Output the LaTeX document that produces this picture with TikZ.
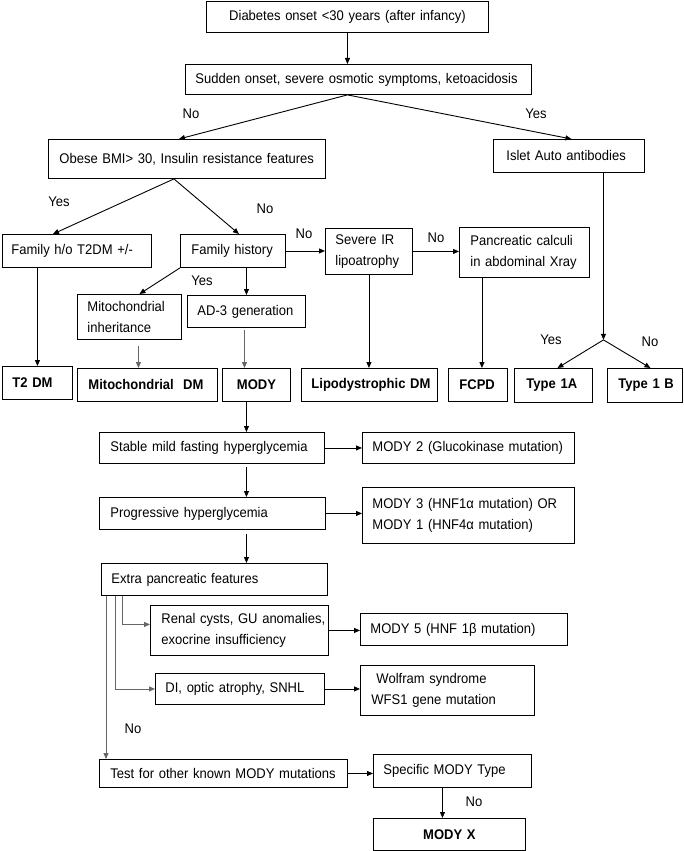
\documentclass[tikz,border=0pt]{standalone}
\usepackage{fontspec}
\setmainfont{Liberation Sans}[FakeStretch=0.93]
\usetikzlibrary{arrows.meta,calc}
\newcommand\fs{\fontsize{14}{20.5}\selectfont\hyphenpenalty=10000\exhyphenpenalty=10000\hbadness=10000\hfuzz=100pt}
\begin{document}
\begin{tikzpicture}[x=1pt,y=-1pt,
 box/.style={draw, line width=0.9pt, anchor=north west, align=left, inner ysep=1pt, font=\fs},
 cbox/.style={box, align=center},
 bbox/.style={box, font=\fs\bfseries},
 lbl/.style={font=\fs, inner sep=0pt},
 arr/.style={line width=0.9pt, -{Triangle[length=6pt,width=5pt]}},
 sub/.style={arr, black!60},
]
\useasboundingbox (0,0) rectangle (683,851);
% boxes
\node[cbox, text width=262pt, inner xsep=10pt, minimum height=31pt] (b1) at (206,1) {Diabetes onset <30 years (after infancy)};
\node[box, text width=326pt, inner xsep=10pt, minimum height=30pt] (b2) at (185,64) {Sudden onset, severe osmotic symptoms, ketoacidosis};
\node[box, text width=255pt, inner xsep=11pt, minimum height=39pt] (obese) at (48,139) {Obese BMI> 30, Insulin resistance features};
\node[box, text width=125pt, inner xsep=13pt, minimum height=33pt] (islet) at (493,139) {Islet Auto antibodies};
\node[box, text width=131pt, inner xsep=9pt, minimum height=33pt] (fh) at (2,234) {Family~h/o~T2DM~+/-};
\node[box, text width=83pt, inner xsep=11pt, minimum height=33pt] (fhist) at (180,234) {Family~history};
\node[box, text width=67pt, inner xsep=10pt, minimum height=46pt] (sir) at (325,228) {Severe~IR\\lipoatrophy};
\node[box, text width=108pt, inner xsep=11pt, minimum height=50pt] (pc) at (459,227) {Pancreatic~calculi\\in~abdominal~Xray};
\node[box, text width=84pt, inner xsep=10pt, minimum height=45pt] (mi) at (77,294) {Mitochondrial\\inheritance};
\node[box, text width=98pt, inner xsep=10pt, minimum height=32pt] (ad3) at (187,295) {AD-3~generation};
\node[bbox, text width=50pt, inner xsep=10pt, minimum height=33pt] (t2) at (2,366) {T2~DM};
\node[bbox, text width=118pt, inner xsep=11pt, minimum height=33pt] (mdm) at (77,368) {Mitochondrial~~DM};
\node[bbox, align=center, text width=48pt, inner xsep=10pt, minimum height=33pt] (mody) at (222,368) {MODY};
\node[bbox, text width=116pt, inner xsep=10pt, minimum height=33pt] (lipo) at (301,368) {Lipodystrophic~DM};
\node[bbox, text width=37pt, inner xsep=11pt, minimum height=33pt] (fcpd) at (448,368) {FCPD};
\node[bbox, text width=54pt, inner xsep=12pt, minimum height=34pt] (t1a) at (514,368) {Type~1A};
\node[bbox, text width=53pt, inner xsep=11pt, minimum height=34pt] (t1b) at (607,368) {Type~1~B};
\node[box, text width=203pt, inner xsep=11pt, minimum height=31pt] (stable) at (99,432) {Stable~mild~fasting~hyperglycemia};
\node[box, text width=192pt, inner xsep=10pt, minimum height=31pt] (mody2) at (362,432) {MODY~2~(Glucokinase~mutation)};
\node[box, text width=204pt, inner xsep=11pt, minimum height=32pt] (prog) at (99,497) {Progressive~hyperglycemia};
\node[box, text width=192pt, inner xsep=10pt, minimum height=56pt] (mody3) at (362,487) {MODY~3~(HNF1α~mutation)~OR\\MODY~1~(HNF4α~mutation)};
\node[box, text width=206pt, inner xsep=10pt, minimum height=32pt] (extra) at (101,563) {Extra~pancreatic~features};
\node[box, text width=156pt, inner xsep=11pt, minimum height=50pt] (renal) at (150,605) {\mbox{Renal cysts, GU anomalies,}\\\mbox{exocrine insufficiency}};
\node[box, text width=187pt, inner xsep=10pt, minimum height=32pt] (mody5) at (360,613) {MODY~5~(HNF~1β~mutation)};
\node[box, text width=149pt, inner xsep=10pt, minimum height=31pt] (di) at (155,673) {DI,~optic~atrophy,~SNHL};
\node[box, text width=152pt, inner xsep=11pt, minimum height=50pt] (wolf) at (360,665) {\hspace*{5pt}Wolfram~syndrome\\WFS1~gene~mutation};
\node[box, text width=226pt, inner xsep=11pt, minimum height=28pt] (test) at (99,759) {Test~for~other~known~MODY~mutations};
\node[box, text width=138pt, inner xsep=10pt, minimum height=33pt] (spec) at (373,754) {Specific~MODY~Type};
\node[bbox, align=center, text width=132pt, inner xsep=10pt, minimum height=32pt] (modyx) at (373,818) {MODY~X};
% connectors
\draw[arr] (b1.south) -- (b1.south |- b2.north);
\draw[arr] ($(b2.south)+(-11,0)$) -- ($(obese.north)+(-8,0)$);
\draw[arr] ($(b2.south)+(-11,0)$) -- ($(islet.north)+(2.5,0)$);
\draw[arr] ($(obese.south)+(-13,0)$) -- ($(fh.north)+(-24,0)$);
\draw[arr] ($(obese.south)+(-13,0)$) -- ($(fhist.north)+(6,0)$);
\draw[arr] (fhist.east) -- (fhist.east -| sir.west);
\draw[arr] (sir.east) -- (sir.east -| pc.west);
\draw[arr] (t2.north |- fh.south) -- (t2.north);
\draw[arr] (fhist.south west) -- ($(mi.north)+(10,0)$);
\draw[arr] (ad3.north |- fhist.south) -- (ad3.north);
\draw[sub] ($(mi.south)+(9,6)$) -- ($(mdm.north)+(-9,0)$);
\draw[sub] ($(ad3.south)+(-2,2)$) -- ($(mody.north)+(-12,0)$);
\draw[arr] (sir.south) -- (sir.south |- lipo.north);
\draw[arr] ($(fcpd.north |- pc.south)+(4,0)$) -- ($(fcpd.north)+(4,0)$);
\coordinate (br) at ($(islet.south)+(34.5,167)$);
\draw[arr] ($(islet.south)+(34.5,0)$) -- (br);
\draw[arr] (br) -- ($(t1a.north)+(4,0)$);
\draw[arr] (br) -- ($(t1b.north)+(5.5,0)$);
\draw[arr] ($(mody.south)+(-10,0)$) -- ($(stable.north)+(34.5,0)$);
\draw[arr] (stable.east) -- (stable.east -| mody2.west);
\draw[arr] ($(stable.south)+(34.5,3)$) -- ($(prog.north)+(34,0)$);
\draw[arr] (prog.east) -- (prog.east -| mody3.west);
\draw[arr] ($(prog.south)+(34,4)$) -- ($(extra.north)+(32,0)$);
\draw[sub] ($(extra.south west)+(21,0)$) |- ($(renal.west)+(0,-6)$);
\draw[sub] ($(extra.south west)+(14,0)$) |- (di.west);
\draw[sub] ($(extra.south west)+(5,0)$) -- ($(test.north west)+(7,0)$);
\draw[arr] (renal.east) -- (renal.east -| mody5.west);
\draw[arr] (di.east) -- (di.east -| wolf.west);
\draw[arr] (test.east) -- (test.east -| spec.west);
\draw[arr] ($(spec.south)+(-10,0)$) -- ($(modyx.north)+(-7,0)$);
% labels
\node[lbl] (l1) at (191,114) {No};
\node[lbl] (l2) at (536,114) {Yes};
\node[lbl] (l3) at (59,202) {Yes};
\node[lbl] (l4) at (265,209) {No};
\node[lbl] (l5) at (304,234) {No};
\node[lbl] (l6) at (436,238) {No};
\node[lbl] (l7) at (202,281) {Yes};
\node[lbl] (l8) at (551,340) {Yes};
\node[lbl] (l9) at (650,342) {No};
\node[lbl] (l10) at (133,729) {No};
\node[lbl] (l11) at (474,802) {No};
\end{tikzpicture}
\end{document}
